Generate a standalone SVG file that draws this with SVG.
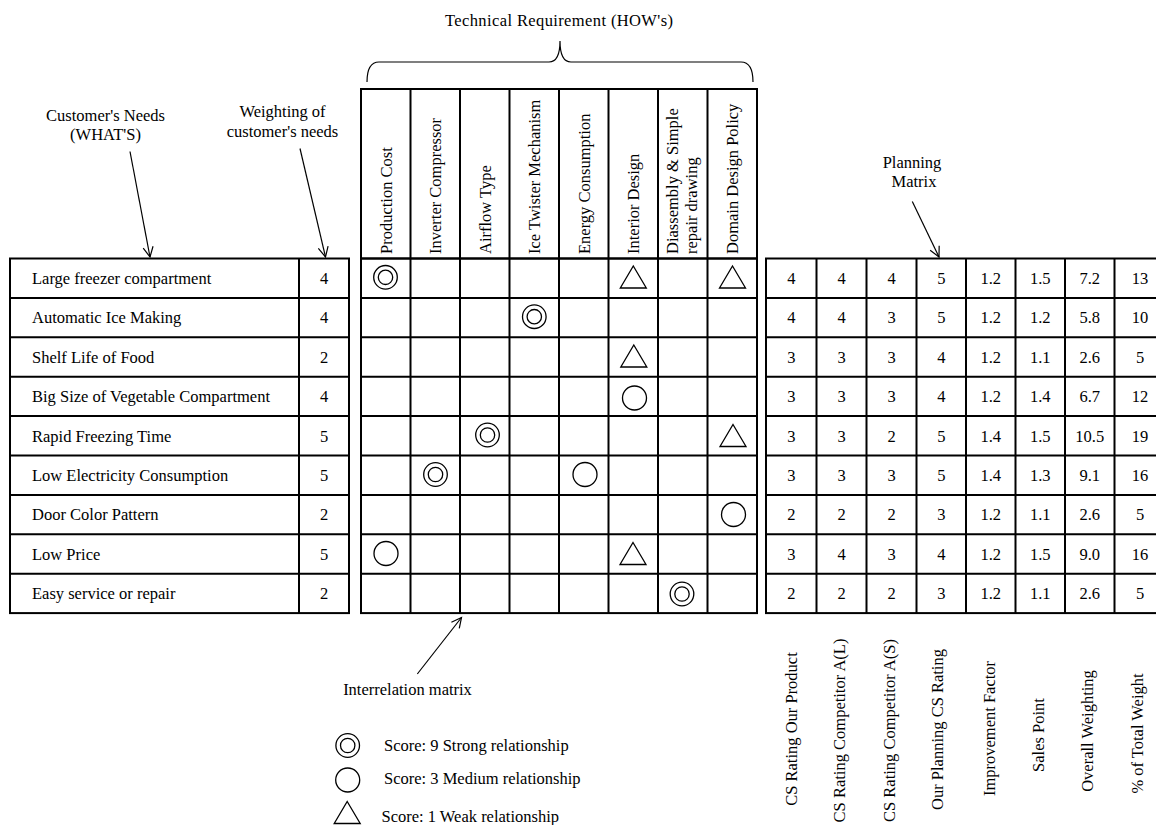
<svg xmlns="http://www.w3.org/2000/svg" width="1156" height="825" viewBox="0 0 1156 825">
<defs>
<style>
text{font-family:"Liberation Serif","Times New Roman",serif;font-size:16.5px;fill:#000}
.m{text-anchor:middle}
.grid{stroke:#000;stroke-width:2;fill:none}
.sym{stroke:#000;stroke-width:1.3;fill:none}
.arr{stroke:#000;stroke-width:1.2;fill:none}
</style>
<marker id="ah" markerUnits="userSpaceOnUse" markerWidth="14" markerHeight="14" refX="11" refY="6" orient="auto">
<path d="M1,1 L11,6 L1,11" fill="none" stroke="#000" stroke-width="1.2"/>
</marker>
<g id="dbl"><circle r="11.8" class="sym"/><circle r="7.2" class="sym"/></g>
<g id="cir"><circle r="12" class="sym"/></g>
<g id="tri"><path d="M0,-11.5 L13,10.5 L-13,10.5 Z" class="sym"/></g>
</defs>
<rect width="1156" height="825" fill="#fff"/>

<g id="labels">
<text class="m" x="559" y="26" textLength="228" lengthAdjust="spacing">Technical Requirement  (HOW's)</text>
<text class="m" x="105.5" y="121">Customer's Needs</text>
<text class="m" x="105.5" y="140">(WHAT'S)</text>
<text class="m" x="282.5" y="117">Weighting of</text>
<text class="m" x="282.5" y="137">customer's needs</text>
<text class="m" x="912" y="168">Planning</text>
<text class="m" x="914" y="187">Matrix</text>
<text class="m" x="407.5" y="695">Interrelation matrix</text>
</g>

<g id="brace">
<path class="arr" d="M367,82 Q367,62 379,62 L549,62 Q560,62 560,41 Q560,62 571,62 L741,62 Q753,62 753,82"/>
</g>

<g id="customer-table">
<rect class="grid" x="10" y="258.5" width="339" height="354.6"/>
<line class="grid" x1="299" y1="258.5" x2="299" y2="613.1"/>
<path class="grid" d="M10,297.9H349M10,337.3H349M10,376.7H349M10,416.1H349M10,455.5H349M10,494.9H349M10,534.3H349M10,573.7H349"/>
<text x="32" y="284">Large freezer compartment</text>
<text x="32" y="323.4">Automatic Ice Making</text>
<text x="32" y="362.8">Shelf Life of Food</text>
<text x="32" y="402.2">Big Size of Vegetable Compartment</text>
<text x="32" y="441.6">Rapid Freezing Time</text>
<text x="32" y="481">Low Electricity Consumption</text>
<text x="32" y="520.4">Door Color Pattern</text>
<text x="32" y="559.8">Low Price</text>
<text x="32" y="599.2">Easy service or repair</text>
<g>
<text class="m" x="324" y="284">4</text>
<text class="m" x="324" y="323.4">4</text>
<text class="m" x="324" y="362.8">2</text>
<text class="m" x="324" y="402.2">4</text>
<text class="m" x="324" y="441.6">5</text>
<text class="m" x="324" y="481">5</text>
<text class="m" x="324" y="520.4">2</text>
<text class="m" x="324" y="559.8">5</text>
<text class="m" x="324" y="599.2">2</text>
</g>
</g>

<g id="technical-header">
<rect class="grid" x="361" y="89" width="396" height="169.5"/>
<path class="grid" d="M410.5,89V613.1M460,89V613.1M509.5,89V613.1M559,89V613.1M608.5,89V613.1M658,89V613.1M707.5,89V613.1"/>
<text transform="translate(391.5,254) rotate(-90)">Production Cost</text>
<text transform="translate(441,254) rotate(-90)">Inverter Compressor</text>
<text transform="translate(490.5,254) rotate(-90)">Airflow  Type</text>
<text transform="translate(540,254) rotate(-90)">Ice Twister Mechanism</text>
<text transform="translate(589.5,254) rotate(-90)">Energy Consumption</text>
<text transform="translate(639,254) rotate(-90)">Interior Design</text>
<text transform="translate(678,254) rotate(-90)">Diassembly &amp; Simple</text>
<text transform="translate(696.5,254) rotate(-90)">repair drawing</text>
<text transform="translate(738,254) rotate(-90)">Domain Design Policy</text>
</g>

<g id="interrelation-matrix">
<rect class="grid" x="361" y="258.5" width="396" height="354.6"/>
<path class="grid" d="M361,297.9H757M361,337.3H757M361,376.7H757M361,416.1H757M361,455.5H757M361,494.9H757M361,534.3H757M361,573.7H757"/>
<use href="#dbl" x="385.5" y="277.3"/>
<use href="#tri" x="633.3" y="277.5"/>
<use href="#tri" x="732.5" y="277.5"/>
<use href="#dbl" x="534.3" y="316.7"/>
<use href="#tri" x="633.8" y="356.5"/>
<use href="#cir" x="634.5" y="398"/>
<use href="#dbl" x="487.5" y="435"/>
<use href="#tri" x="733" y="436"/>
<use href="#dbl" x="435.5" y="474.5"/>
<use href="#cir" x="585" y="474.5"/>
<use href="#cir" x="733.5" y="514.5"/>
<use href="#cir" x="386" y="553.5"/>
<use href="#tri" x="633" y="554"/>
<use href="#dbl" x="682" y="594"/>
</g>

<g id="planning-matrix">
<rect class="grid" x="766" y="258.5" width="398" height="354.6"/>
<path class="grid" d="M816.5,258.5V613.1M866.5,258.5V613.1M916.5,258.5V613.1M966,258.5V613.1M1015.5,258.5V613.1M1065,258.5V613.1M1114.5,258.5V613.1"/>
<path class="grid" d="M766,297.9H1164M766,337.3H1164M766,376.7H1164M766,416.1H1164M766,455.5H1164M766,494.9H1164M766,534.3H1164M766,573.7H1164"/>
<g>
<text class="m" x="791.3" y="284">4</text><text class="m" x="841.5" y="284">4</text><text class="m" x="891.5" y="284">4</text><text class="m" x="941.3" y="284">5</text><text class="m" x="990.8" y="284">1.2</text><text class="m" x="1040.3" y="284">1.5</text><text class="m" x="1089.8" y="284">7.2</text><text class="m" x="1140" y="284">13</text>
<text class="m" x="791.3" y="323.4">4</text><text class="m" x="841.5" y="323.4">4</text><text class="m" x="891.5" y="323.4">3</text><text class="m" x="941.3" y="323.4">5</text><text class="m" x="990.8" y="323.4">1.2</text><text class="m" x="1040.3" y="323.4">1.2</text><text class="m" x="1089.8" y="323.4">5.8</text><text class="m" x="1140" y="323.4">10</text>
<text class="m" x="791.3" y="362.8">3</text><text class="m" x="841.5" y="362.8">3</text><text class="m" x="891.5" y="362.8">3</text><text class="m" x="941.3" y="362.8">4</text><text class="m" x="990.8" y="362.8">1.2</text><text class="m" x="1040.3" y="362.8">1.1</text><text class="m" x="1089.8" y="362.8">2.6</text><text class="m" x="1140" y="362.8">5</text>
<text class="m" x="791.3" y="402.2">3</text><text class="m" x="841.5" y="402.2">3</text><text class="m" x="891.5" y="402.2">3</text><text class="m" x="941.3" y="402.2">4</text><text class="m" x="990.8" y="402.2">1.2</text><text class="m" x="1040.3" y="402.2">1.4</text><text class="m" x="1089.8" y="402.2">6.7</text><text class="m" x="1140" y="402.2">12</text>
<text class="m" x="791.3" y="441.6">3</text><text class="m" x="841.5" y="441.6">3</text><text class="m" x="891.5" y="441.6">2</text><text class="m" x="941.3" y="441.6">5</text><text class="m" x="990.8" y="441.6">1.4</text><text class="m" x="1040.3" y="441.6">1.5</text><text class="m" x="1089.8" y="441.6">10.5</text><text class="m" x="1140" y="441.6">19</text>
<text class="m" x="791.3" y="481">3</text><text class="m" x="841.5" y="481">3</text><text class="m" x="891.5" y="481">3</text><text class="m" x="941.3" y="481">5</text><text class="m" x="990.8" y="481">1.4</text><text class="m" x="1040.3" y="481">1.3</text><text class="m" x="1089.8" y="481">9.1</text><text class="m" x="1140" y="481">16</text>
<text class="m" x="791.3" y="520.4">2</text><text class="m" x="841.5" y="520.4">2</text><text class="m" x="891.5" y="520.4">2</text><text class="m" x="941.3" y="520.4">3</text><text class="m" x="990.8" y="520.4">1.2</text><text class="m" x="1040.3" y="520.4">1.1</text><text class="m" x="1089.8" y="520.4">2.6</text><text class="m" x="1140" y="520.4">5</text>
<text class="m" x="791.3" y="559.8">3</text><text class="m" x="841.5" y="559.8">4</text><text class="m" x="891.5" y="559.8">3</text><text class="m" x="941.3" y="559.8">4</text><text class="m" x="990.8" y="559.8">1.2</text><text class="m" x="1040.3" y="559.8">1.5</text><text class="m" x="1089.8" y="559.8">9.0</text><text class="m" x="1140" y="559.8">16</text>
<text class="m" x="791.3" y="599.2">2</text><text class="m" x="841.5" y="599.2">2</text><text class="m" x="891.5" y="599.2">2</text><text class="m" x="941.3" y="599.2">3</text><text class="m" x="990.8" y="599.2">1.2</text><text class="m" x="1040.3" y="599.2">1.1</text><text class="m" x="1089.8" y="599.2">2.6</text><text class="m" x="1140" y="599.2">5</text>
</g>
</g>

<g id="planning-labels">
<text class="m" transform="translate(797,729) rotate(-90)">CS Rating Our Product</text>
<text class="m" transform="translate(845,730.5) rotate(-90)">CS Rating Competitor A(L)</text>
<text class="m" transform="translate(895,730.5) rotate(-90)">CS Rating Competitor A(S)</text>
<text class="m" transform="translate(943,729.5) rotate(-90)">Our Planning CS Rating</text>
<text class="m" transform="translate(995,728.5) rotate(-90)">Improvement Factor</text>
<text class="m" transform="translate(1044,735) rotate(-90)">Sales Point</text>
<text class="m" transform="translate(1093,731) rotate(-90)">Overall Weighting</text>
<text class="m" transform="translate(1143,733.5) rotate(-90)">% of Total Weight</text>
</g>

<g id="legend">
<use href="#dbl" x="347.7" y="745.5"/>
<text x="384" y="751">Score: 9 Strong relationship</text>
<use href="#cir" x="347.7" y="780"/>
<text x="384" y="784">Score: 3 Medium relationship</text>
<use href="#tri" x="347.2" y="813"/>
<text x="381.5" y="822">Score: 1 Weak relationship</text>
</g>

<g id="connectors">
<line class="arr" x1="130" y1="151.5" x2="150" y2="257" marker-end="url(#ah)"/>
<line class="arr" x1="300" y1="148.5" x2="325.5" y2="257" marker-end="url(#ah)"/>
<line class="arr" x1="912.3" y1="201.5" x2="939" y2="257" marker-end="url(#ah)"/>
<line class="arr" x1="417.3" y1="674" x2="461.5" y2="617.5" marker-end="url(#ah)"/>
</g>
</svg>
